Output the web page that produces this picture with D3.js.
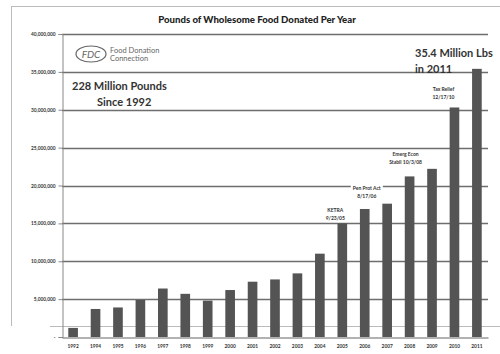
<!DOCTYPE html>
<html>
<head>
<meta charset="utf-8">
<script src="https://cdn.jsdelivr.net/npm/d3@7"></script>
<style>
  html, body { margin: 0; padding: 0; background: #fff; }
  svg { display: block; }
  text { font-family: Lato, "Open Sans", sans-serif; }
</style>
</head>
<body>
<svg id="chart" width="500" height="354"></svg>
<script>
// Pounds donated each year
const years = ["1992","1994","1995","1996","1997","1998","1999","2000","2001","2002",
               "2003","2004","2005","2006","2007","2008","2009","2010","2011"];
const pounds = [1.2e6, 3.7e6, 3.9e6, 4.9e6, 6.4e6, 5.7e6, 4.8e6, 6.2e6, 7.3e6, 7.6e6,
                8.4e6, 11.0e6, 15.0e6, 16.9e6, 17.6e6, 21.2e6, 22.2e6, 30.3e6, 35.4e6];
const yTicks = [0, 5e6, 10e6, 15e6, 20e6, 25e6, 30e6, 35e6, 40e6];

// Legislation milestones, each placed relative to the top of the bar it marks
const events = [
  { year: "2005", lines: ["KETRA", "9/23/05"], dx: -7, dy: -11 },
  { year: "2006", lines: ["Pen Prot Act", "8/17/06"], dx: 2, dy: -19 },
  { year: "2008", lines: ["Emerg Econ", "Stabil 10/3/08"], dx: -4, dy: -20 },
  { year: "2010", lines: ["Tax Relief", "12/17/10"], dx: -11, dy: -16 }
];

const svg = d3.select("#chart");
const m = { left: 62, right: 488, top: 34, bottom: 337 };

// outer frame
svg.append("rect")
  .attr("x", 11.5).attr("y", 6.5).attr("width", 495).attr("height", 320)
  .attr("fill", "none").attr("stroke", "#bbb").attr("stroke-width", 1);
svg.append("rect")
  .attr("x", 0).attr("y", 326).attr("width", 50).attr("height", 28).attr("fill", "#fff");

const x = d3.scaleBand().domain(years).range([m.left, m.right]).paddingInner(0.57).paddingOuter(0.28);
const y = d3.scaleLinear().domain([0, 40e6]).range([m.bottom, m.top]);

// gridlines
svg.append("g").selectAll("line").data(yTicks.slice(1)).join("line")
  .attr("x1", m.left).attr("x2", m.right)
  .attr("y1", d => Math.round(y(d)) + 0.5).attr("y2", d => Math.round(y(d)) + 0.5)
  .attr("stroke", "#6e6e6e").attr("stroke-width", 1.3);

// y axis
const yAxis = d3.axisLeft(y).tickValues(yTicks).tickSize(4).tickPadding(3)
  .tickFormat(d => d === 0 ? "-" : d3.format(",")(d));
const gy = svg.append("g").attr("transform", `translate(${m.left + 0.5},0)`).call(yAxis);
gy.select(".domain").attr("stroke", "#888");
gy.selectAll(".tick line").attr("stroke", "#888");
gy.selectAll(".tick text").attr("font-size", 4.8).attr("font-weight", "bold").attr("fill", "#333")
  .attr("font-family", "Lato, sans-serif");

// x axis
const xAxis = d3.axisBottom(x).tickSize(0).tickPadding(7);
const gx = svg.append("g").attr("transform", `translate(0,${m.bottom + 0.5})`).call(xAxis);
gx.select(".domain").attr("stroke", "#666").attr("stroke-width", 1.2);
gx.selectAll(".tick text").attr("font-size", 4.8).attr("font-weight", "bold").attr("fill", "#333")
  .attr("font-family", "Lato, sans-serif");

// bars
svg.append("g").selectAll("rect").data(years).join("rect")
  .attr("x", d => x(d)).attr("width", x.bandwidth())
  .attr("y", (d, i) => y(pounds[i]))
  .attr("height", (d, i) => y(0) - y(pounds[i]))
  .attr("fill", "#545454");

// title
svg.append("text").attr("x", 257).attr("y", 23).attr("text-anchor", "middle")
  .attr("font-size", 9.6).attr("font-weight", 900).attr("fill", "#222")
  .text("Pounds of Wholesome Food Donated Per Year");

// logo
const logo = svg.append("g").attr("fill", "#666").attr("stroke", "#666");
logo.append("ellipse").attr("cx", 91).attr("cy", 54).attr("rx", 15).attr("ry", 8)
  .attr("fill", "none").attr("stroke-width", 1.2);
logo.append("text").attr("x", 91).attr("y", 57.5).attr("text-anchor", "middle")
  .attr("font-family", "Liberation Serif, serif").attr("font-style", "italic")
  .attr("font-size", 10).attr("stroke", "none").text("FDC");
logo.append("text").attr("x", 110).attr("y", 53).attr("font-family", "Liberation Serif, serif")
  .attr("font-size", 7.5).attr("stroke", "none").text("Food Donation");
logo.append("text").attr("x", 110).attr("y", 61).attr("font-family", "Liberation Serif, serif")
  .attr("font-size", 7.5).attr("stroke", "none").text("Connection");

// totals
const big = svg.append("g").attr("font-size", 11).attr("font-weight", "bold").attr("fill", "#333");
big.append("text").attr("x", 72).attr("y", 90).text("228 Million Pounds");
big.append("text").attr("x", 97).attr("y", 106).text("Since 1992");
big.append("text").attr("x", 415).attr("y", 57).text("35.4 Million Lbs");
big.append("text").attr("x", 415).attr("y", 73).text("in 2011");

// milestone labels on a white box so gridlines break around them
const ev = svg.append("g").attr("font-size", 5).attr("font-weight", "bold").attr("fill", "#333")
  .attr("text-anchor", "middle");
events.forEach(e => {
  const i = years.indexOf(e.year);
  const cx = x(e.year) + x.bandwidth() / 2 + e.dx;
  const top = y(pounds[i]);
  const g = ev.append("g");
  const bg = g.append("rect").attr("fill", "#fff");
  e.lines.forEach((t, k) => {
    g.append("text").attr("x", cx).attr("y", top + e.dy + k * 8).text(t);
  });
  const b = g.node().getBBox();
  bg.attr("x", b.x - 2).attr("y", b.y - 1).attr("width", b.width + 4).attr("height", b.height + 1);
});
</script>
</body>
</html>
